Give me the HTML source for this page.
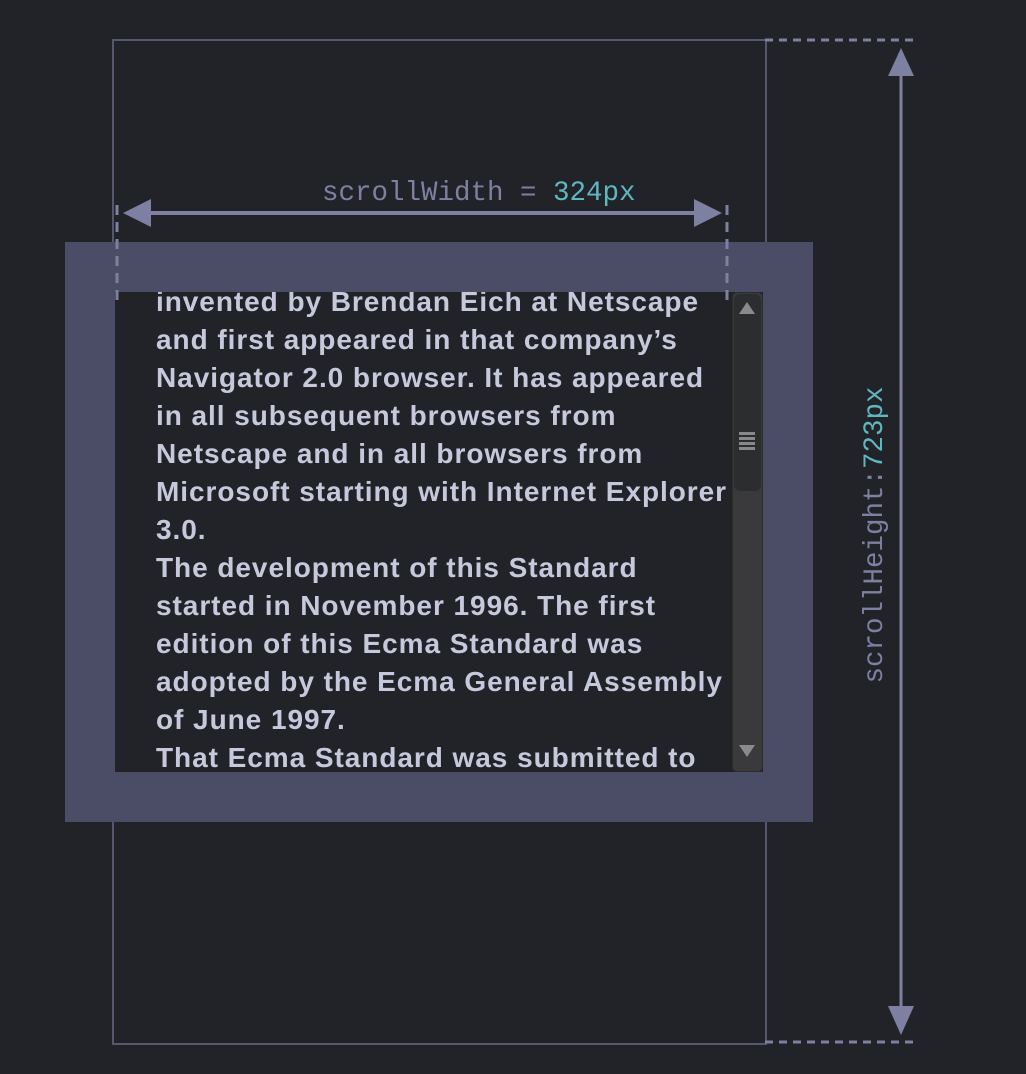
<!DOCTYPE html>
<html><head><style>
html,body{margin:0;padding:0;background:#222328;width:1026px;height:1074px;overflow:hidden;position:relative}
.a{position:absolute}
.mono{font-family:"Liberation Mono",monospace;font-size:27.5px;color:#7d80a0;white-space:nowrap}
.t{color:#5fb8c0}
#txt{position:absolute;left:41px;top:-9px;font-family:"Liberation Sans",sans-serif;font-weight:bold;font-size:28px;line-height:38px;color:#c6c8dc;white-space:nowrap;letter-spacing:0.95px}
</style></head><body>
<div class="a" style="left:112px;top:39px;width:651px;height:1002px;border:2px solid #55576f"></div>
<svg class="a" style="left:0;top:0" width="1026" height="1074">
<line x1="765" y1="40" x2="917" y2="40" stroke="#7d80a0" stroke-width="3" stroke-dasharray="8,6"/>
<line x1="765" y1="1042" x2="917" y2="1042" stroke="#7d80a0" stroke-width="3" stroke-dasharray="8,6"/>
<line x1="901" y1="70" x2="901" y2="1010" stroke="#7d80a0" stroke-width="3"/>
<polygon points="901,48 888,76 914,76" fill="#7d80a0"/>
<polygon points="901,1035 888,1006 914,1006" fill="#7d80a0"/>
<line x1="145" y1="213" x2="700" y2="213" stroke="#7d80a0" stroke-width="4"/>
<polygon points="123,213 151,199 151,227" fill="#7d80a0"/>
<polygon points="722,213 694,199 694,227" fill="#7d80a0"/>
</svg>
<div class="a mono" style="left:322px;top:178px">scrollWidth = <span class="t">324px</span></div>
<div class="a mono" style="left:727px;top:518px;width:300px;text-align:center;transform:rotate(-90deg);transform-origin:150px 17px">scrollHeight:<span class="t">723px</span></div>
<div class="a" style="left:65px;top:242px;width:748px;height:580px;background:#4b4d66"></div>
<div class="a" style="left:115px;top:292px;width:648px;height:480px;background:#222328;overflow:hidden">
<div id="txt">
<div>invented by Brendan Eich at Netscape</div>
<div>and first appeared in that company’s</div>
<div>Navigator 2.0 browser. It has appeared</div>
<div>in all subsequent browsers from</div>
<div>Netscape and in all browsers from</div>
<div>Microsoft starting with Internet Explorer</div>
<div>3.0.</div>
<div>The development of this Standard</div>
<div>started in November 1996. The first</div>
<div>edition of this Ecma Standard was</div>
<div>adopted by the Ecma General Assembly</div>
<div>of June 1997.</div>
<div>That Ecma Standard was submitted to</div>
</div>
<div class="a" style="left:617px;top:0;width:31px;height:480px;background:#3a3a3c;border-radius:5px;box-shadow:inset 0 0 0 1px #2c2c2e"></div>
<div class="a" style="left:619px;top:2px;width:27px;height:197px;background:#2c2d2f;border-radius:6px"></div>
<div class="a" style="left:624px;top:10px;width:0;height:0;border-left:8px solid transparent;border-right:8px solid transparent;border-bottom:12px solid #8a8a8a"></div>
<div class="a" style="left:624px;top:453px;width:0;height:0;border-left:8px solid transparent;border-right:8px solid transparent;border-top:12px solid #8a8a8a"></div>
<div class="a" style="left:624px;top:140px;width:16px;height:3px;background:#888;box-shadow:0 5px 0 #888,0 10px 0 #888,0 15px 0 #888"></div>
</div>
<svg class="a" style="left:0;top:0" width="1026" height="1074">
<line x1="117" y1="205" x2="117" y2="305" stroke="#7d80a0" stroke-width="3" stroke-dasharray="10,7"/>
<line x1="727" y1="205" x2="727" y2="305" stroke="#7d80a0" stroke-width="3" stroke-dasharray="10,7"/>
</svg>
</body></html>
